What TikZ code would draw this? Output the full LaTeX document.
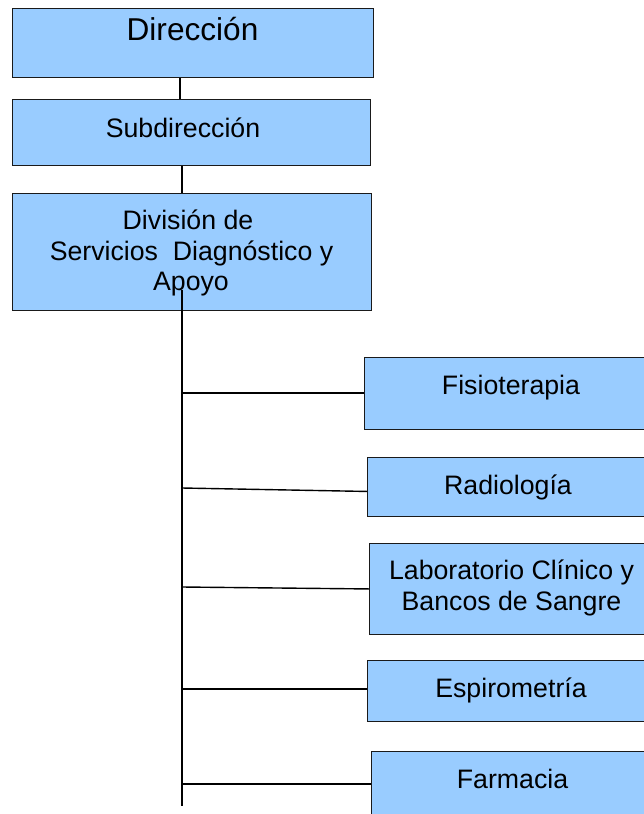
\documentclass[tikz,border=0pt]{standalone}
\usepackage{fontspec}
\setmainfont{Liberation Sans}
\definecolor{boxfill}{HTML}{99CCFF}
\definecolor{boxline}{HTML}{1A1A1A}
\begin{document}
\begin{tikzpicture}[x=1pt,y=-1pt,
  box/.style={draw=boxline, fill=boxfill, line width=0.9pt, inner sep=0pt, anchor=north west},
  lbl/.style={font=\fontsize{26.7}{31}\selectfont, inner sep=0pt, anchor=base, align=center},
  big/.style={font=\fontsize{31.6}{36}\selectfont, inner sep=0pt, anchor=base},
  conn/.style={line width=1.6pt, black},
  branch/.style={line width=1.4pt, black}]
\useasboundingbox (0,0) rectangle (644,814);
% boxes
\node[box, minimum width=361, minimum height=69] (dir) at (12,8) {};
\node[box, minimum width=358, minimum height=66] (sub) at (12,99) {};
\node[box, minimum width=359, minimum height=117] (div) at (12,193) {};
\node[box, minimum width=300, minimum height=72] (fis) at (364,357) {};
\node[box, minimum width=300, minimum height=59] (rad) at (367,457) {};
\node[box, minimum width=300, minimum height=91] (lab) at (369,543) {};
\node[box, minimum width=300, minimum height=61] (esp) at (367,660) {};
\node[box, minimum width=300, minimum height=90] (far) at (371,751) {};
% labels
\node[big] (dirt) at (192.5,40) {Dirección};
\node[lbl] (subt) at (183,137) {Subdirección};
\node[lbl] (divt1) at (188,229) {División de};
\node[lbl] (divt2) at (191.5,260) {Servicios\ \ Diagnóstico y};
\node[lbl] (divt3) at (191,290) {Apoyo};
\node[lbl] (fist) at (511,394) {Fisioterapia};
\node[lbl] (radt) at (508,494) {Radiología};
\node[lbl] (labt1) at (511.5,579) {Laboratorio Clínico y};
\node[lbl] (labt2) at (511.5,610) {Bancos de Sangre};
\node[lbl] (espt) at (511,697) {Espirometría};
\node[lbl] (fart) at (512.5,788) {Farmacia};
% connector coordinates
\coordinate (x1) at (180,0);
\coordinate (x2) at (182,0);
\coordinate (ttop) at (182,290);
\coordinate (tbot) at (182,806);
\coordinate (b1) at (182,393);
\coordinate (b2) at (182,488);
\coordinate (b3) at (182,587);
\coordinate (b4) at (182,689);
\coordinate (b5) at (182,784);
% connectors
\draw[conn] (dir.south -| x1) -- (sub.north -| x1);
\draw[conn] (sub.south -| x2) -- (div.north -| x2);
\draw[conn] (ttop) -- (tbot);
\draw[branch] (b1) -- (fis.west |- b1);
\draw[branch] (b2) -- ([yshift=-4.5pt]rad.west);
\draw[branch] (b3) -- (lab.west);
\draw[branch] (b4) -- (esp.west |- b4);
\draw[branch] (b5) -- (far.west |- b5);
\end{tikzpicture}
\end{document}
